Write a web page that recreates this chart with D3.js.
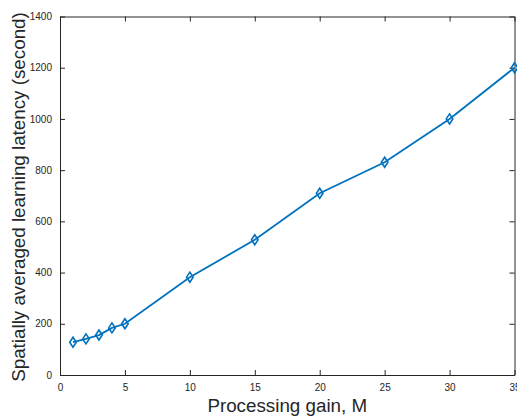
<!DOCTYPE html>
<meta charset="utf-8">
<style>
body {margin: 0; background: white;}
.tick text {font-family: "Liberation Sans", Arial, sans-serif; font-size: 10px; fill: #262626;}
.axis path, .axis line {stroke: #262626;}
.label {font-family: "Liberation Sans", Arial, sans-serif; font-size: 18.8px; fill: #262626;}
</style>
<body>
<script src="https://cdn.jsdelivr.net/npm/d3@7"></script>
<script>
var gain = [1, 2, 3, 4, 5, 10, 15, 20, 25, 30, 35]
var latency = [128, 141, 156, 184, 200, 382, 528, 710, 831, 1000, 1200]
var xTicks = [0, 5, 10, 15, 20, 25, 30, 35]
var yTicks = [0, 200, 400, 600, 800, 1000, 1200, 1400]

var width = 517, height = 417
var m = {left: 60, right: 2.5, top: 16.5, bottom: 42}
var iw = width - m.left - m.right, ih = height - m.top - m.bottom

var svg = d3.select("body").append("svg")
  .attr("width", width).attr("height", height)
var g = svg.append("g").attr("transform", "translate(" + m.left + "," + m.top + ")")

var x = d3.scaleLinear().domain([0, 35]).range([0, iw])
var y = d3.scaleLinear().domain([0, 1400]).range([ih, 0])
var fmt = d3.format("d")

// bottom / left axes with inward ticks
g.append("g").attr("class", "axis").attr("transform", "translate(0," + ih + ")")
  .call(d3.axisBottom(x).tickValues(xTicks).tickFormat(fmt).tickSizeInner(-5).tickSizeOuter(0).tickPadding(9))
g.append("g").attr("class", "axis")
  .call(d3.axisLeft(y).tickValues(yTicks).tickFormat(fmt).tickSizeInner(-5).tickSizeOuter(0).tickPadding(8))
// mirrored top / right
g.append("g").attr("class", "axis")
  .call(d3.axisTop(x).tickValues(xTicks).tickSizeInner(-5).tickSizeOuter(0).tickFormat(""))
g.append("g").attr("class", "axis").attr("transform", "translate(" + iw + ",0)")
  .call(d3.axisRight(y).tickValues(yTicks).tickSizeInner(-5).tickSizeOuter(0).tickFormat(""))

var pts = gain.map(function(d, i) { return [d, latency[i]] })
var line = d3.line().x(function(d) { return x(d[0]) }).y(function(d) { return y(d[1]) })
g.append("path").datum(pts)
  .attr("fill", "none").attr("stroke", "#0072BD").attr("stroke-width", 1.8)
  .attr("d", line)
g.selectAll(".mk").data(pts).enter().append("path")
  .attr("class", "mk")
  .attr("transform", function(d) { return "translate(" + x(d[0]) + "," + y(d[1]) + ")" })
  .attr("d", "M0,-5L3.3,0L0,5L-3.3,0Z")
  .attr("fill", "none").attr("stroke", "#0072BD").attr("stroke-width", 1.6)

svg.append("text").attr("class", "label")
  .attr("x", m.left + iw / 2).attr("y", 412).attr("text-anchor", "middle")
  .text("Processing gain, M")
svg.append("text").attr("class", "label")
  .attr("transform", "translate(25,197) rotate(-90)")
  .attr("text-anchor", "middle")
  .text("Spatially averaged learning latency (second)")
</script>
